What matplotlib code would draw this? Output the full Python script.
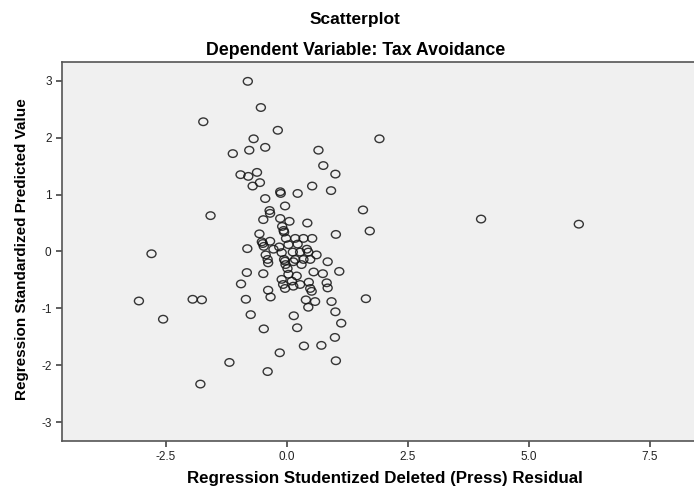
import matplotlib
matplotlib.use("Agg")
import matplotlib.pyplot as plt
from matplotlib import rcParams
from matplotlib.path import Path

config = {"font.family": ["Liberation Sans", "DejaVu Sans"],
          "font.size": 8,
          "axes.unicode_minus": False}
rcParams.update(config)

# studentized deleted residual (x) vs standardized predicted value (y)
resid = [-0.81, -0.54, -1.73, -0.19, -0.69, 1.91, -0.45, -0.78, 0.65, -1.12,
         0.75, -0.62, 1.00, -0.96, -0.80, -0.56, -0.71, 0.52, 0.91, -0.14,
         -0.13, 0.22, -0.45, -0.04, 1.57, -0.36, -0.35, -1.58, 4.01, -0.14,
         -0.49, 0.05, 0.42, 6.03, -0.10, -0.07, -0.06, 1.71, -0.57, 1.01,
         -0.02, 0.17, 0.34, 0.52, -0.35, -0.52, -0.50, -0.48, 0.03, 0.22,
         -0.16, -0.82, -0.28, 0.41, -2.80, -0.11, 0.12, 0.27, 0.44, -0.44,
         0.61, -0.06, 0.17, 0.34, 0.48, -0.40, -0.39, -0.04, 0.13, 0.84,
         -0.03, 0.30, 0.01, 1.08, 0.55, -0.83, -0.49, 0.74, 0.03, 0.20,
         -0.11, 0.10, -0.95, -0.08, 0.27, 0.13, 0.45, 0.82, -0.04, 0.48,
         0.51, 0.84, -0.39, -0.34, 1.63, -0.85, -3.06, -1.95, -1.76, 0.39,
         0.58, 0.92, 0.44, 1.00, -0.75, 0.14, -2.56, 1.12, 0.21, -0.48,
         0.99, 0.35, 0.71, -0.15, 1.01, -1.19, -0.40, -1.79]
pred = [2.99, 2.53, 2.28, 2.13, 1.98, 1.98, 1.83, 1.78, 1.78, 1.72,
        1.51, 1.39, 1.36, 1.35, 1.32, 1.21, 1.15, 1.15, 1.07, 1.05,
        1.02, 1.02, 0.93, 0.80, 0.73, 0.72, 0.67, 0.63, 0.57, 0.58,
        0.56, 0.53, 0.50, 0.48, 0.44, 0.37, 0.34, 0.36, 0.31, 0.30,
        0.23, 0.23, 0.23, 0.23, 0.18, 0.17, 0.14, 0.09, 0.12, 0.13,
        0.08, 0.05, 0.04, 0.04, -0.04, -0.02, -0.01, -0.01, -0.01, -0.06,
        -0.06, -0.14, -0.14, -0.14, -0.14, -0.14, -0.20, -0.17, -0.18, -0.18,
        -0.23, -0.23, -0.30, -0.35, -0.36, -0.37, -0.39, -0.39, -0.40, -0.43,
        -0.49, -0.52, -0.57, -0.58, -0.58, -0.61, -0.54, -0.55, -0.65, -0.65,
        -0.70, -0.64, -0.68, -0.80, -0.83, -0.84, -0.87, -0.84, -0.85, -0.85,
        -0.88, -0.88, -0.98, -1.06, -1.11, -1.13, -1.19, -1.26, -1.34, -1.36,
        -1.51, -1.66, -1.65, -1.78, -1.92, -1.95, -2.11, -2.33]

xticks = [-2.5, 0.0, 2.5, 5.0, 7.5]
yticks = [-3, -2, -1, 0, 1, 2, 3]

# the source chart is slightly stretched sideways, so the rings are ovals
circ = Path.unit_circle()
oval = Path(circ.vertices * [1.19, 1.0], circ.codes)

fig = plt.figure(figsize=(6.94, 4.87), dpi=100)
ax = fig.add_axes([0.0893, 0.0945, 0.9107, 0.7782])
ax.set_facecolor("#f0f0f0")

ax.scatter(resid, pred, s=42, marker=oval, facecolors="none",
           edgecolors="#141414", linewidths=1.0, alpha=0.85)

ax.set_xlim(-4.65, 8.41)
ax.set_ylim(-3.33, 3.33)
ax.set_xticks(xticks)
ax.set_xticklabels(["{:.1f}".format(v) for v in xticks])
ax.set_yticks(yticks)
ax.tick_params(direction="out", length=4.5, width=1.2, color="#444444",
               labelsize=8.5, labelcolor="#222222", pad=3)

for side in ["left", "bottom", "top"]:
    ax.spines[side].set_color("#555555")
    ax.spines[side].set_linewidth(1.2)
ax.spines["right"].set_visible(False)

fig.text(0.512, 0.959, "Scatterplot", ha="center", va="center",
         fontsize=12.5, fontweight="bold")
fig.text(0.512, 0.897, "Dependent Variable: Tax Avoidance", ha="center",
         va="center", fontsize=12.8, fontweight="bold")
fig.text(0.555, 0.018, "Regression Studentized Deleted (Press) Residual",
         ha="center", va="center", fontsize=12.2, fontweight="bold")
fig.text(0.032, 0.489, "Regression Standardized Predicted Value",
         ha="center", va="center", rotation=90, fontsize=11,
         fontweight="bold")

plt.savefig("out.png", dpi=100)
plt.close()
